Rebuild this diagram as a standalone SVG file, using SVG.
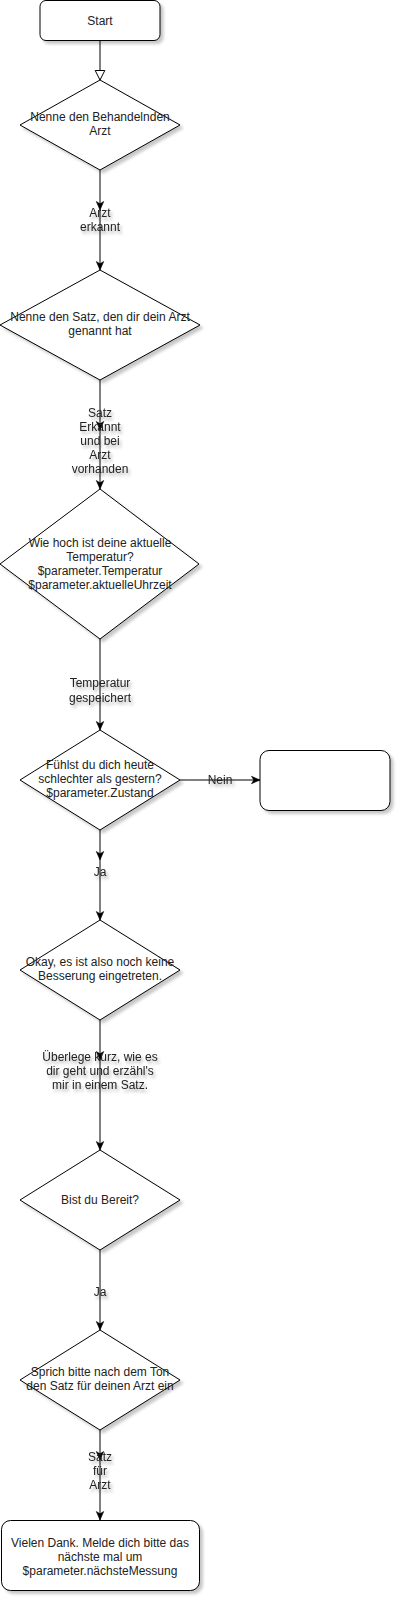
<svg xmlns="http://www.w3.org/2000/svg" width="402" height="1602" viewBox="0 0 402 1602">
<style>
.n{fill:#fff;stroke:#000;stroke-width:1;filter:url(#sh)}
.t{font-family:"Liberation Sans",Arial,sans-serif;font-size:12px;fill:#222;text-anchor:middle}
.lb{filter:url(#tsh)}
.e{fill:none;stroke:#000;stroke-width:1}
.a{marker-end:url(#arr)}
</style>
<defs>
<filter id="sh" x="-20%" y="-20%" width="150%" height="150%">
<feDropShadow dx="3" dy="3" stdDeviation="1.5" flood-color="#000" flood-opacity="0.22"/>
</filter>
<filter id="tsh" x="-30%" y="-30%" width="160%" height="160%">
<feDropShadow dx="2" dy="3" stdDeviation="1.5" flood-color="#000" flood-opacity="0.3"/>
</filter>
<marker id="arr" markerWidth="10" markerHeight="10" refX="9" refY="5" orient="auto" markerUnits="userSpaceOnUse">
<path d="M0.5,1.3 L9,5 L0.5,8.7 L2.8,5 Z" fill="#000" stroke="#000" stroke-width="0.6"/>
</marker>
<marker id="open" markerWidth="12" markerHeight="12" refX="10" refY="6" orient="auto" markerUnits="userSpaceOnUse">
<path d="M0.5,1.2 L10,6 L0.5,10.8 Z" fill="#fff" stroke="#000" stroke-width="1"/>
</marker>
</defs>

<g id="connectors">
<path class="e" d="M100,40.5 L100,80" marker-end="url(#open)"/>
<path class="e a" d="M100,170 L100,210"/>
<path class="e a" d="M100,210 L100,270"/>
<path class="e a" d="M100,380 L100,430"/>
<path class="e a" d="M100,430 L100,489"/>
<path class="e a" d="M100,639 L100,730"/>
<path class="e a" d="M180,780 L260,780"/>
<path class="e a" d="M100,830 L100,860"/>
<path class="e a" d="M100,860 L100,920"/>
<path class="e a" d="M100,1020 L100,1060"/>
<path class="e a" d="M100,1060 L100,1150"/>
<path class="e a" d="M100,1250 L100,1330"/>
<path class="e a" d="M100,1430 L100,1460"/>
<path class="e a" d="M100,1460 L100,1520"/>
</g>

<g id="labels">
<g id="lbl-arzt-erkannt" class="lb">
<text class="t" x="100" y="217">Arzt</text>
<text class="t" x="100" y="231">erkannt</text>
</g>
<g id="lbl-satz-erkannt" class="lb">
<text class="t" x="100" y="417">Satz</text>
<text class="t" x="100" y="431">Erkannt</text>
<text class="t" x="100" y="445">und bei</text>
<text class="t" x="100" y="459">Arzt</text>
<text class="t" x="100" y="473">vorhanden</text>
</g>
<g id="lbl-temp" class="lb">
<text class="t" x="100" y="687">Temperatur</text>
<text class="t" x="100" y="702">gespeichert</text>
</g>
<g id="lbl-nein" class="lb">
<text class="t" x="220" y="784">Nein</text>
</g>
<g id="lbl-ja1" class="lb">
<text class="t" x="100" y="876">Ja</text>
</g>
<g id="lbl-ueberlege" class="lb">
<text class="t" x="100" y="1061">Überlege kurz, wie es</text>
<text class="t" x="100" y="1075">dir geht und erzähl's</text>
<text class="t" x="100" y="1089">mir in einem Satz.</text>
</g>
<g id="lbl-ja2" class="lb">
<text class="t" x="100" y="1296">Ja</text>
</g>
<g id="lbl-satz-arzt" class="lb">
<text class="t" x="100" y="1461">Satz</text>
<text class="t" x="100" y="1475">für</text>
<text class="t" x="100" y="1489">Arzt</text>
</g>
</g>

<g id="start">
<rect class="n" x="40" y="0.5" width="120" height="40" rx="6"/>
<text class="t" x="100" y="24.5">Start</text>
</g>

<g id="d1">
<path class="n" d="M100,80 L180,125 L100,170 L20,125 Z"/>
<text class="t" x="100" y="121">Nenne den Behandelnden</text>
<text class="t" x="100" y="135">Arzt</text>
</g>

<g id="d2">
<path class="n" d="M100,270 L200,325 L100,380 L0,325 Z"/>
<text class="t" x="100" y="321">Nenne den Satz, den dir dein Arzt</text>
<text class="t" x="100" y="335">genannt hat</text>
</g>

<g id="d3">
<path class="n" d="M100,489 L199,564 L100,639 L0,564 Z"/>
<text class="t" x="100" y="547">Wie hoch ist deine aktuelle</text>
<text class="t" x="100" y="561">Temperatur?</text>
<text class="t" x="100" y="575">$parameter.Temperatur</text>
<text class="t" x="100" y="589">$parameter.aktuelleUhrzeit</text>
</g>

<g id="d4">
<path class="n" d="M100,730 L180,780 L100,830 L20,780 Z"/>
<text class="t" x="100" y="769">Fühlst du dich heute</text>
<text class="t" x="100" y="783">schlechter als gestern?</text>
<text class="t" x="100" y="797">$parameter.Zustand</text>
</g>

<g id="empty-box">
<rect class="n" x="260" y="750.5" width="130" height="60" rx="9"/>
</g>

<g id="d5">
<path class="n" d="M100,920 L180,970 L100,1020 L20,970 Z"/>
<text class="t" x="100" y="966">Okay, es ist also noch keine</text>
<text class="t" x="100" y="980">Besserung eingetreten.</text>
</g>

<g id="d6">
<path class="n" d="M100,1150 L180,1200 L100,1250 L20,1200 Z"/>
<text class="t" x="100" y="1204">Bist du Bereit?</text>
</g>

<g id="d7">
<path class="n" d="M100,1330 L180,1380 L100,1430 L20,1380 Z"/>
<text class="t" x="100" y="1376">Sprich bitte nach dem Ton</text>
<text class="t" x="100" y="1390">den Satz für deinen Arzt ein</text>
</g>

<g id="end">
<rect class="n" x="1.5" y="1520.5" width="198" height="70" rx="9"/>
<text class="t" x="100" y="1547">Vielen Dank. Melde dich bitte das</text>
<text class="t" x="100" y="1561">nächste mal um</text>
<text class="t" x="100" y="1575">$parameter.nächsteMessung</text>
</g>
</svg>
